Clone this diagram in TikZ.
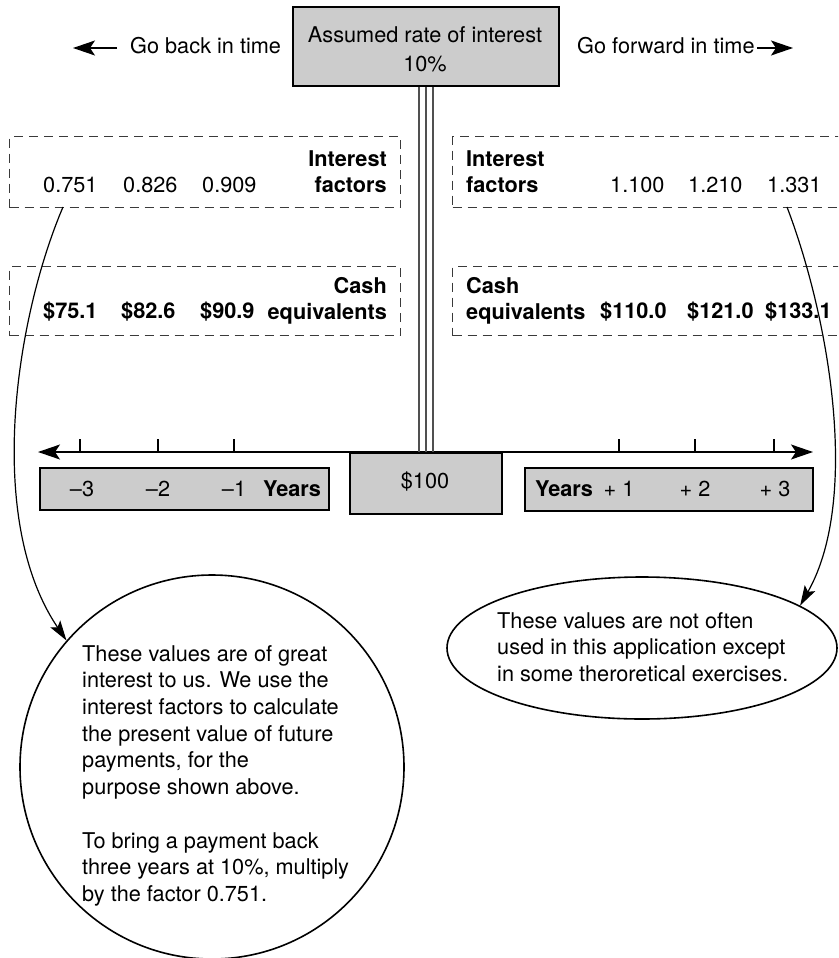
\documentclass[tikz,border=0pt]{standalone}
\usepackage{fontspec}
\setmainfont{TeX Gyre Heros}
\usetikzlibrary{arrows.meta,shapes.geometric}
\definecolor{boxgray}{HTML}{CCCCCC}
\definecolor{dashgray}{HTML}{3A3A3A}
\definecolor{stemgray}{HTML}{505050}
\begin{document}
\begin{tikzpicture}[x=1pt,y=-1pt,
  txt/.style={font=\fontsize{21.7}{26.7}\selectfont, inner sep=0pt, text=black},
  bt/.style={txt, font=\fontsize{21.7}{26}\selectfont\bfseries},
  graybox/.style={draw=black, line width=2pt, fill=boxgray, inner sep=0pt, anchor=north west},
  dbox/.style={draw=dashgray, line width=1.3pt, dash pattern=on 9pt off 6pt, inner sep=0pt, anchor=north west},
  stemline/.style={draw=stemgray, line width=1.3pt},
  toptip/.style={line width=1.4pt, -{Stealth[length=22pt,width=15pt,inset=5pt]}},
  axistip/.style={line width=1.5pt, {Stealth[length=22pt,width=15pt,inset=5pt]}-{Stealth[length=22pt,width=15pt,inset=5pt]}},
  ctip/.style={line width=1.2pt, -{Stealth[length=20pt,width=12pt,inset=4pt]}},
  tick/.style={line width=1.1pt},
  bubble/.style={draw=black, line width=1.6pt, inner sep=0pt},
]
\clip (0,0) rectangle (838,958);
\fill[white] (0,0) rectangle (838,958);

% top
\node[graybox, minimum width=266pt, minimum height=79pt] (top) at (292,6) {};
\node[txt, align=center, anchor=north, font=\fontsize{21.7}{29}\selectfont] (rate) at (425,26.4) {Assumed rate of interest\\10\%};
\node[txt, anchor=base west] (back) at (130,54) {Go back in time};
\node[txt, anchor=base west] (fwd) at (577,54) {Go forward in time};
\coordinate (la1) at (117,48); \coordinate (la2) at (73,48);
\coordinate (ra1) at (757,48); \coordinate (ra2) at (793,48);
\draw[toptip] (la1) -- (la2);
\draw[toptip] (ra1) -- (ra2);

% dashed boxes
\node[dbox, minimum width=391pt, minimum height=71pt] (l1) at (9,136) {};
\node[dbox, minimum width=391pt, minimum height=69pt] (l2) at (9,266) {};
\node[dbox, minimum width=400pt, minimum height=71pt] (r1) at (452,136) {};
\node[dbox, minimum width=400pt, minimum height=69pt] (r2) at (452,266) {};

\node[bt, align=right, anchor=north east] (l1t) at (387,150) {Interest\\factors};
\node[txt, anchor=base west] (f1) at (43,192) {0.751};
\node[txt, anchor=base west] (f2) at (123,192) {0.826};
\node[txt, anchor=base west] (f3) at (202,192) {0.909};
\node[bt, align=right, anchor=north east] (l2t) at (387,277) {Cash\\equivalents};
\node[bt, anchor=base west] (c1) at (43,318) {\$75.1};
\node[bt, anchor=base west] (c2) at (121,318) {\$82.6};
\node[bt, anchor=base west] (c3) at (200,318) {\$90.9};

\node[bt, align=left, anchor=north west] (r1t) at (466,150) {Interest\\factors};
\node[txt, anchor=base west] (g1) at (610,192) {1.100};
\node[txt, anchor=base west] (g2) at (688,192) {1.210};
\node[txt, anchor=base west] (g3) at (767,192) {1.331};
\node[bt, align=left, anchor=north west] (r2t) at (466,277) {Cash\\equivalents};
\node[bt, anchor=base west] (d1) at (600,318) {\$110.0};
\node[bt, anchor=base west] (d2) at (687,318) {\$121.0};
\node[bt, anchor=base west] (d3) at (765,318) {\$133.1};

% axis
\coordinate (axL) at (38,452); \coordinate (axR) at (813,452);
\draw[axistip] (axL) -- (axR);
\foreach \x in {80,158,234,619,695,774} \draw[tick] (\x,439) -- (\x,452);

% $100 box and stem
\node[graybox, minimum width=152pt, minimum height=61pt] (hundred) at (349,452) {};
\node[txt, anchor=base] (ht) at (425,488) {\$100};
\foreach \dx in {-7,0,7}
  \draw[stemline] ([xshift=\dx pt]top.south) -- ([xshift=\dx pt]hundred.north);

% years boxes
\node[graybox, minimum width=289pt, minimum height=42pt] (ly) at (39,467) {};
\node[graybox, minimum width=288pt, minimum height=43pt] (ry) at (524,467) {};
\node[txt, anchor=base] (m3) at (82,496) {–3};
\node[txt, anchor=base] (m2) at (158,496) {–2};
\node[txt, anchor=base] (m1) at (234,496) {–1};
\node[bt, anchor=base west] (ly1) at (263,496) {Years};
\node[bt, anchor=base west] (ry1) at (535,496) {Years};
\node[txt, anchor=base] (p1) at (619,496) {+ 1};
\node[txt, anchor=base] (p2) at (695,496) {+ 2};
\node[txt, anchor=base] (p3) at (775,496) {+ 3};

% bubbles
\node[bubble, circle, minimum size=384pt] (circ) at (212,767) {};
\node[txt, align=left, anchor=north west] (ctext) at (82,645) {These values are of great\\interest to us. We use the\\interest factors to calculate\\the present value of future\\payments, for the\\purpose shown above.};
\node[txt, align=left, anchor=north west] (ctext2) at (82,832) {To bring a payment back\\three years at 10\%, multiply\\by the factor 0.751.};
\node[bubble, ellipse, minimum width=390pt, minimum height=142pt] (ell) at (642,648) {};
\node[txt, align=left, anchor=north west] (etext) at (497,612.2) {These values are not often\\used in this application except\\in some theroretical exercises.};

% connectors
\coordinate (s1) at (63,207);
\coordinate (s2) at (787,207);
\draw[ctip] (s1) .. controls (15,320) and (-15,520) .. (circ.139);
\draw[ctip] (s2) .. controls (830,320) and (860,500) .. (ell.15);
\end{tikzpicture}
\end{document}
